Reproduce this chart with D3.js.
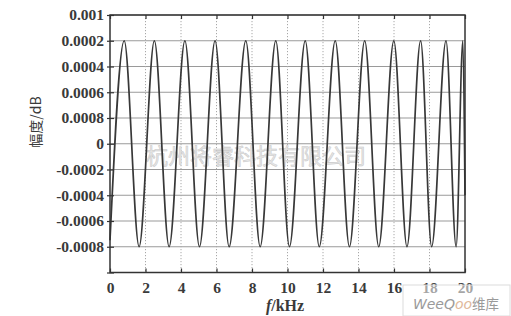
<!DOCTYPE html>
<html>
<head>
<meta charset="utf-8">
<script src="https://cdn.jsdelivr.net/npm/d3@7/dist/d3.min.js"></script>
<style>
  html, body { margin: 0; padding: 0; background: #fff; }
  svg { display: block; }
</style>
</head>
<body>
<svg id="chart" width="511" height="316"></svg>
<script>
// ---- data ----
const freqKHz = [0, 0.80, 1.64, 2.50, 3.33, 4.22, 5.04, 5.92, 6.71, 7.65, 8.46, 9.34, 10.11, 11.00, 11.79, 12.69, 13.49, 14.35, 15.14, 15.99, 16.73, 17.50, 18.12, 18.93, 19.50, 19.88, 20.00];
const amplitude = [-0.00075, 0.0008, -0.0008, 0.0008, -0.0008, 0.0008, -0.0008, 0.0008, -0.0008, 0.0008, -0.0008, 0.0008, -0.0008, 0.0008, -0.0008, 0.0008, -0.0008, 0.0008, -0.0008, 0.0008, -0.0008, 0.0008, -0.0008, 0.0008, -0.0008, 0.0008, -0.0004];
const xTickValues = [0, 2, 4, 6, 8, 10, 12, 14, 16, 18, 20];
const yTickValues = [0.001, 0.0008, 0.0006, 0.0004, 0.0002, 0, -0.0002, -0.0004, -0.0006, -0.0008, -0.001];
const yTickLabels = ["0.001", "0.0002", "0.0004", "0.0006", "0.0008", "0", "-0.0002", "-0.0004", "-0.0006", "-0.0008", ""];
const xTitleItalic = "f";
const xTitleRest = "/kHz";
const yTitle = "幅度/dB";
const watermark = "杭州将睿科技有限公司";

// ---- layout ----
const svg = d3.select("#chart");
const L = 110, R = 465, T = 15, B = 272.5;
const x = d3.scaleLinear().domain([0, 20]).range([L, R]);
const y = d3.scaleLinear().domain([-0.001, 0.001]).range([B, T]);
const serif = "'Liberation Serif', 'DejaVu Serif', serif";

// horizontal gridlines (solid)
svg.append("g").selectAll("line").data(yTickValues).join("line")
  .attr("x1", L).attr("x2", R)
  .attr("y1", d => y(d)).attr("y2", d => y(d))
  .attr("stroke", "#9a9a9a").attr("stroke-width", 1.2);

// vertical gridlines (dotted)
svg.append("g").selectAll("line").data(xTickValues.slice(1, -1)).join("line")
  .attr("x1", d => x(d)).attr("x2", d => x(d))
  .attr("y1", T).attr("y2", B)
  .attr("stroke", "#a8a8a8").attr("stroke-width", 1)
  .attr("stroke-dasharray", "1.2,1.8");

// watermark
svg.append("text")
  .attr("x", 256).attr("y", 164)
  .attr("text-anchor", "middle")
  .attr("font-family", "'Noto Sans CJK SC', sans-serif")
  .attr("font-size", 22)
  .attr("fill", "#e6e6e6")
  .attr("stroke", "#c8c8c8").attr("stroke-width", 0.5)
  .text(watermark);

// curve
const pts = freqKHz.map((f, i) => [f, amplitude[i]]);
svg.append("path")
  .datum(pts)
  .attr("fill", "none")
  .attr("stroke", "#383838")
  .attr("stroke-width", 1.7)
  .attr("d", d3.line().x(d => x(d[0])).y(d => y(d[1])).curve(d3.curveMonotoneX));

// axes
const xAxisB = d3.axisBottom(x).tickValues(xTickValues).tickSizeInner(-4).tickSizeOuter(0).tickPadding(9).tickFormat(d3.format("d"));
const xAxisT = d3.axisTop(x).tickValues(xTickValues).tickSizeInner(-4).tickSizeOuter(0).tickFormat("");
const yAxisL = d3.axisLeft(y).tickValues(yTickValues).tickSizeInner(4).tickSizeOuter(0).tickPadding(2)
  .tickFormat((d, i) => yTickLabels[i]);

const gB = svg.append("g").attr("transform", `translate(0,${B})`).call(xAxisB);
const gT = svg.append("g").attr("transform", `translate(0,${T})`).call(xAxisT);
const gL = svg.append("g").attr("transform", `translate(${L},0)`).call(yAxisL);
[gB, gT, gL].forEach(g => {
  g.select(".domain").remove();
  g.selectAll(".tick line").attr("stroke", "#333").attr("stroke-width", 1.2);
  g.selectAll("text").attr("font-family", serif).attr("font-size", 15.5)
    .attr("font-weight", "bold").attr("fill", "#3a3a3a");
});
gL.selectAll(".tick line").attr("x1", -3).attr("x2", 4);

// frame
svg.append("rect")
  .attr("x", L).attr("y", T).attr("width", R - L).attr("height", B - T)
  .attr("fill", "none").attr("stroke", "#333").attr("stroke-width", 1.5);

// axis titles
const xt = svg.append("text")
  .attr("x", 285).attr("y", 311)
  .attr("text-anchor", "middle")
  .attr("font-family", serif).attr("font-size", 16).attr("font-weight", "bold")
  .attr("fill", "#3a3a3a");
xt.append("tspan").attr("font-style", "italic").text(xTitleItalic);
xt.append("tspan").text(xTitleRest);

svg.append("text")
  .attr("transform", "translate(41,122) rotate(-90)")
  .attr("text-anchor", "middle")
  .attr("font-family", "'Noto Sans CJK SC', sans-serif").attr("font-size", 14)
  .attr("fill", "#3a3a3a")
  .text(yTitle);

// logo box
const logo = svg.append("g");
logo.append("rect")
  .attr("x", 403).attr("y", 285).attr("width", 107).attr("height", 31)
  .attr("fill", "#fff").attr("fill-opacity", 0.55)
  .attr("stroke", "#dcdcdc").attr("stroke-width", 1);
const lt = logo.append("text")
  .attr("x", 456).attr("y", 309)
  .attr("text-anchor", "middle")
  .attr("font-family", "'DejaVu Sans', sans-serif").attr("font-size", 14)
  .attr("fill", "#9a9a9a");
lt.append("tspan").attr("font-style", "italic").text("WeeQ");
lt.append("tspan").attr("font-style", "italic").attr("fill", "#e0b899").text("oo");
lt.append("tspan").attr("font-family", "'Noto Sans CJK SC', sans-serif").attr("font-size", 13.5).text("维库");
</script>
</body>
</html>
